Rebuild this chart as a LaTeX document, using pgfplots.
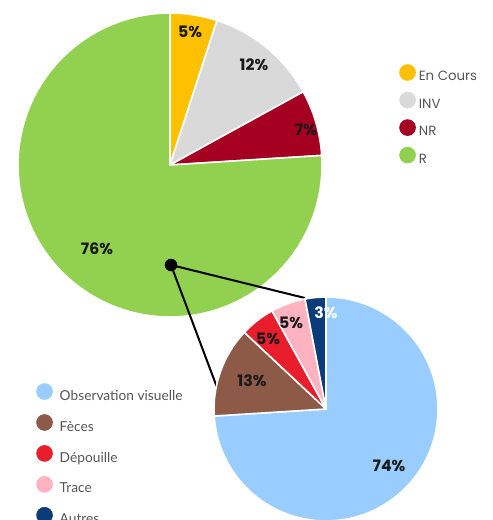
\documentclass[border=0pt]{standalone}
\usepackage{pgfplots}
\pgfplotsset{compat=1.18}
\usepackage{fontspec}
\setmainfont{Lato}
\newfontfamily\pop{Poppins}

\definecolor{cEn}{HTML}{FFC000}
\definecolor{cInv}{HTML}{D9D9D9}
\definecolor{cNr}{HTML}{A50021}
\definecolor{cR}{HTML}{92D050}
\definecolor{cObs}{HTML}{99CCFF}
\definecolor{cFec}{HTML}{8C5A46}
\definecolor{cDep}{HTML}{E91E2C}
\definecolor{cTr}{HTML}{FFB3C0}
\definecolor{cAut}{HTML}{0B3B78}
\definecolor{txt}{HTML}{555555}

% one unit = one pixel of the 492x520 reference, y downwards
\pgfplotsset{
  piebase/.style={x=0.75pt, y=0.75pt, xmin=0, xmax=492, ymin=0, ymax=520,
    y dir=reverse, hide axis, clip=false},
}
\tikzset{pct/.style={font=\pop\bfseries\fontsize{11.8}{12}\selectfont, text=black!90}}

% slice: cx, cy, radius, start (%), value (%), colour -- clockwise from 12 o'clock
\newcommand\slice[6]{\fill[#6, draw=white, line width=1.2pt, line join=round]
  (axis cs:#1,#2) -- ++({90-3.6*#4}:{#3*0.75pt})
  arc[start angle={90-3.6*#4}, delta angle={-3.6*#5}, radius={#3*0.75pt}] -- cycle;}
\newcommand\leg[1]{\addlegendimage{legend image code/.code={\fill[#1] (6pt,3.5pt) circle (6pt);}}}

\begin{document}
\begin{tikzpicture}
\useasboundingbox (0,0) rectangle (369pt,390pt);
\clip (0,0) rectangle (369pt,390pt);

% main pie: status
\begin{axis}[piebase,
  legend style={at={(0.811,0.877)}, anchor=north west, draw=none, fill=none,
    inner sep=0pt, row sep=6.7pt, column sep=2.3pt, text=txt,
    font=\pop\fontsize{10}{11}\selectfont, nodes={inner sep=0pt}, cells={anchor=west}}]
\slice{170}{165}{152}{0}{5}{cEn}
\slice{170}{165}{152}{5}{12}{cInv}
\slice{170}{165}{152}{17}{7}{cNr}
\slice{170}{165}{152}{24}{76}{cR}
\node[pct] at (axis cs:190,32) {5\%};
\node[pct] at (axis cs:254,65) {12\%};
\node[pct] at (axis cs:306,130) {7\%};
\node[pct] at (axis cs:97,249) {76\%};
\leg{cEn}\addlegendentry{En Cours}
\leg{cInv}\addlegendentry{INV}
\leg{cNr}\addlegendentry{NR}
\leg{cR}\addlegendentry{R}
\end{axis}

% breakdown pie of R
\begin{axis}[piebase,
  legend style={at={(0.0732,0.2635)}, anchor=north west, draw=none, fill=none,
    inner sep=0pt, row sep=9.0pt, column sep=5.2pt, text=txt,
    font=\fontsize{10.3}{12}\selectfont, nodes={inner sep=0pt}, cells={anchor=west}}]
\addplot[black, line width=1.5pt, forget plot] coordinates {(305,298) (171,265) (218,390)};
\addplot[black, only marks, mark=*, mark size=4.5pt, forget plot] coordinates {(171,265)};
\slice{326}{409}{112}{0}{74}{cObs}
\slice{326}{409}{112}{74}{13}{cFec}
\slice{326}{409}{112}{87}{5}{cDep}
\slice{326}{409}{112}{92}{5}{cTr}
\slice{326}{409}{112}{97}{3}{cAut}
\node[pct, text=white] at (axis cs:326,313) {3\%};
\node[pct] at (axis cs:291,323) {5\%};
\node[pct] at (axis cs:268,339) {5\%};
\node[pct] at (axis cs:252,381) {13\%};
\node[pct] at (axis cs:389,466) {74\%};
\leg{cObs}\addlegendentry{Observation visuelle}
\leg{cFec}\addlegendentry{Fèces}
\leg{cDep}\addlegendentry{Dépouille}
\leg{cTr}\addlegendentry{Trace}
\leg{cAut}\addlegendentry{Autres}
\end{axis}
\end{tikzpicture}
\end{document}
